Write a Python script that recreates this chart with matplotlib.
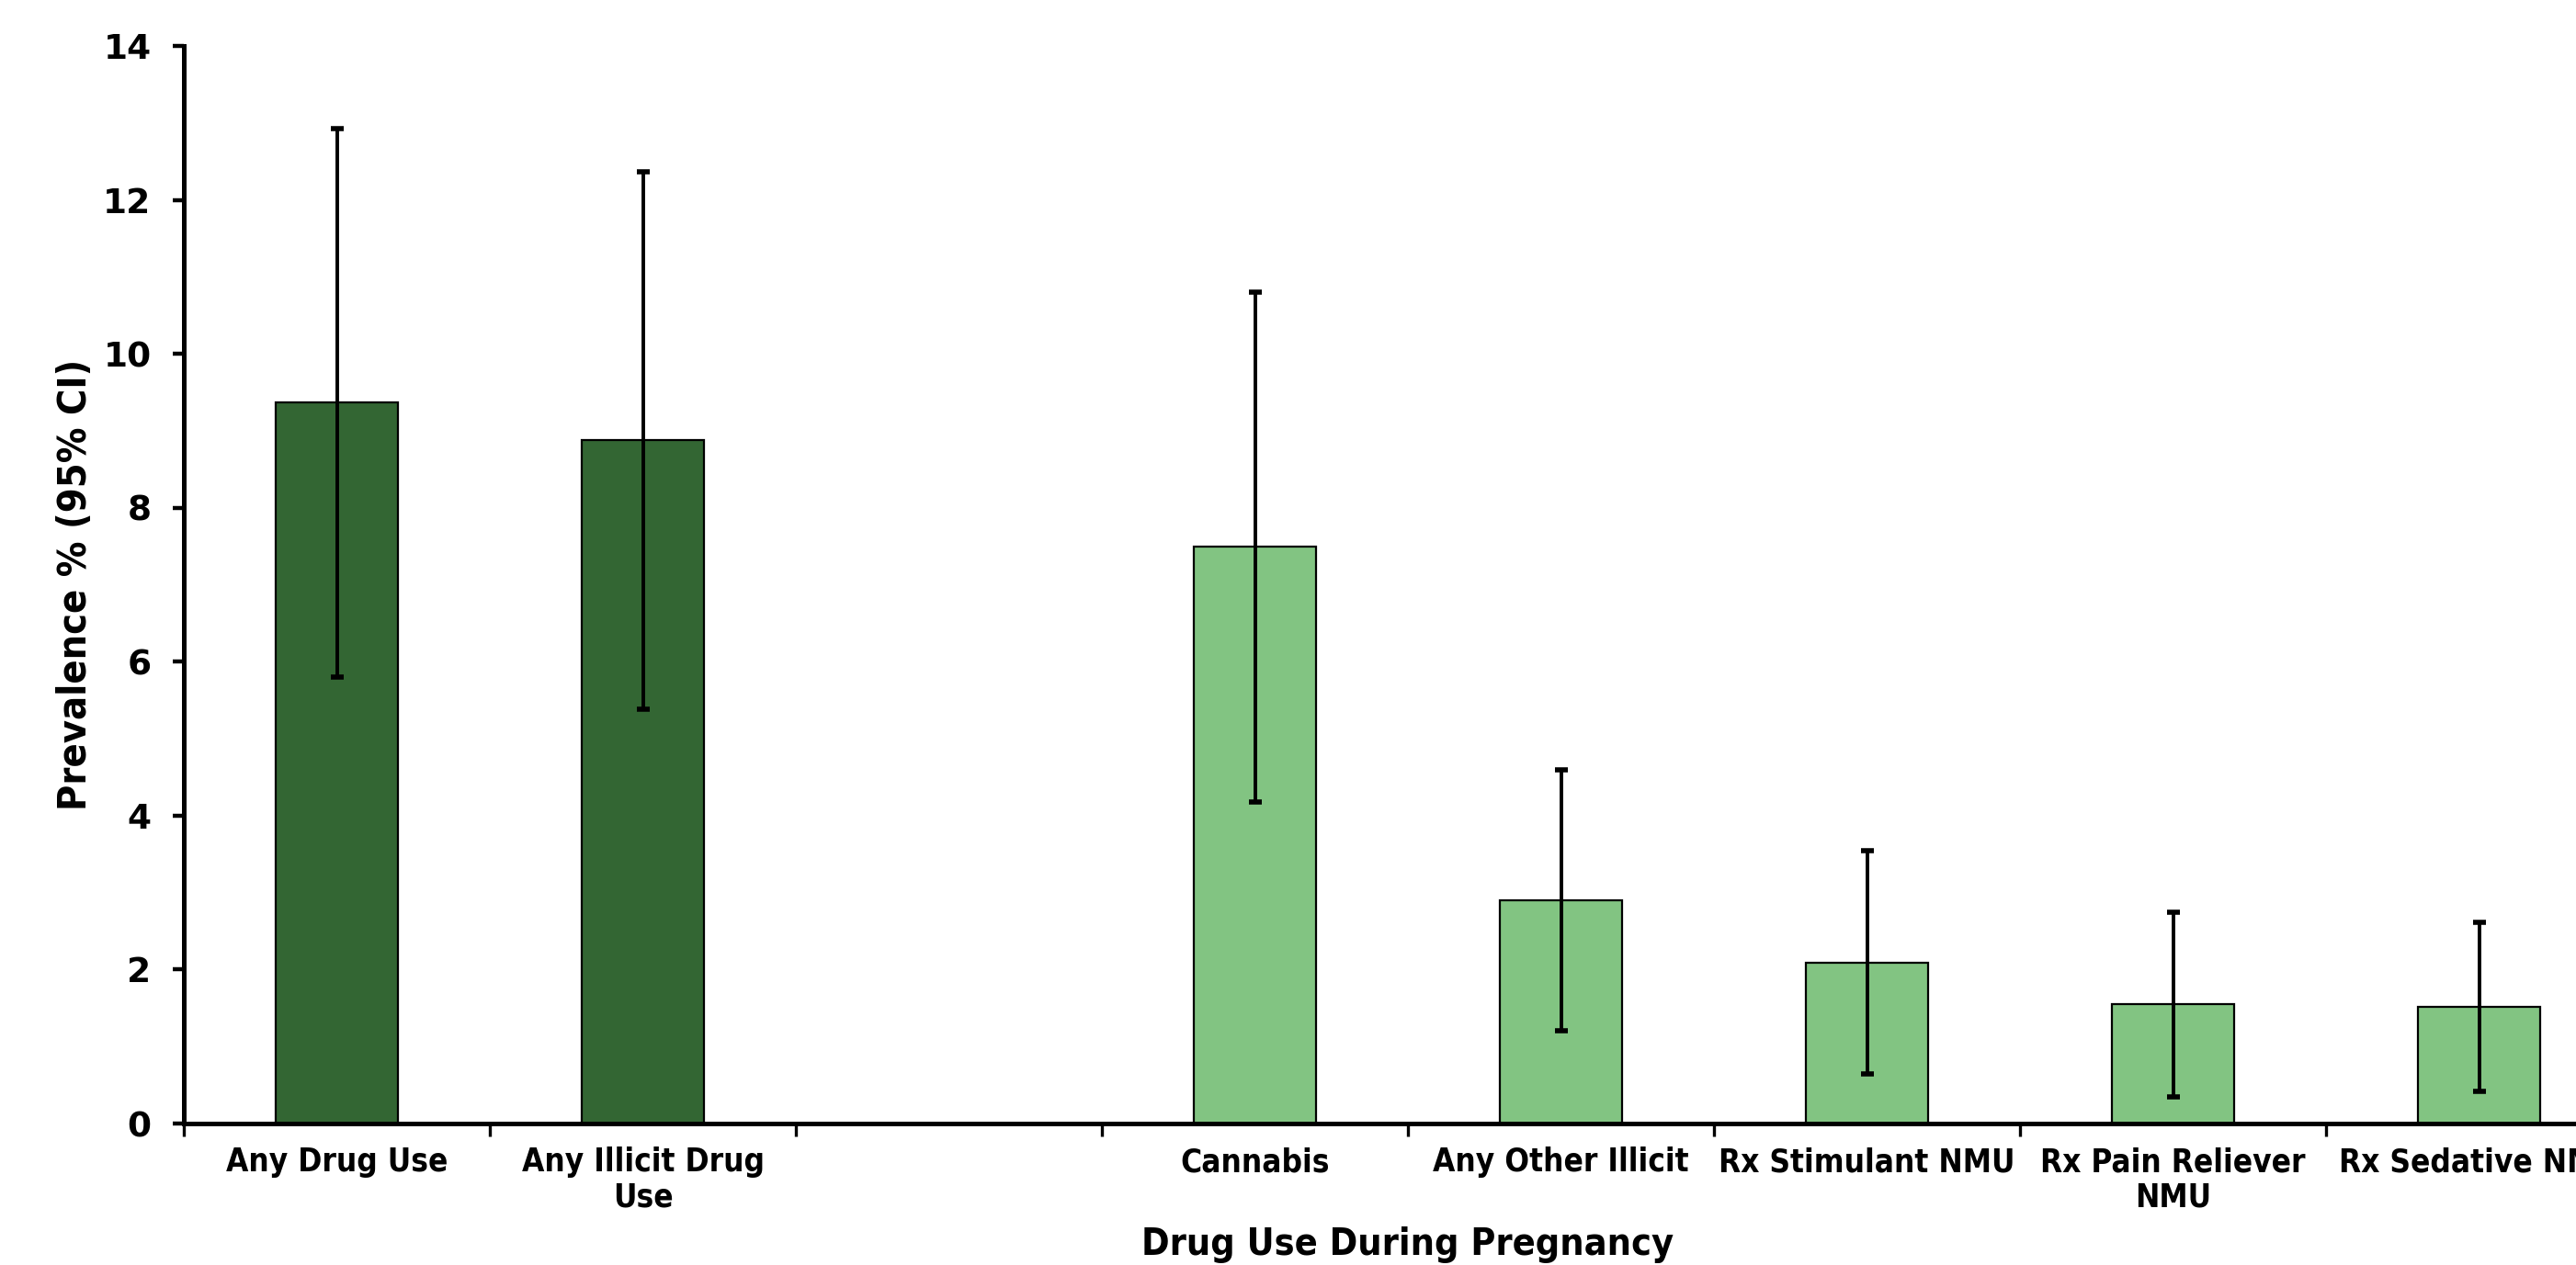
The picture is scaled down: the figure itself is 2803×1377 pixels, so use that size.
import matplotlib
matplotlib.use("Agg")
import matplotlib.pyplot as plt
import numpy as np

categories = ["Any Drug Use", "Any Illicit Drug\nUse", "", "Cannabis", "Any Other Illicit",
              "Rx Stimulant NMU", "Rx Pain Reliever\nNMU", "Rx Sedative NMU"]
prevalence = [9.37, 8.88, np.nan, 7.49, 2.90, 2.09, 1.55, 1.52]
ci_lower = [5.80, 5.38, np.nan, 4.18, 1.20, 0.65, 0.35, 0.42]
ci_upper = [12.93, 12.36, np.nan, 10.80, 4.60, 3.54, 2.75, 2.61]
group = ["overall", "overall", "none", "specific", "specific", "specific", "specific", "specific"]
colors_map = {"overall": "#336633", "specific": "#82C482", "none": "white"}

W, H = 2803, 1377
dpi = 200
fig = plt.figure(figsize=(W / dpi, H / dpi), dpi=dpi)

left_px, axis_px, top_px, cat_px = 200, 1223, 50, 333.0
n = len(categories)
ax = fig.add_axes([left_px / W, 1 - axis_px / H, n * cat_px / W, (axis_px - top_px) / H])

x = np.arange(n)
vals = np.array(prevalence, dtype=float)
lo = np.array(ci_lower, dtype=float)
hi = np.array(ci_upper, dtype=float)
mask = ~np.isnan(vals)
cols = [colors_map[g] for g in group]

ax.bar(x[mask], vals[mask], width=0.4, color=[c for c, m in zip(cols, mask) if m],
       edgecolor="black", linewidth=0.8, zorder=2)
ax.errorbar(x[mask], vals[mask], yerr=[vals[mask] - lo[mask], hi[mask] - vals[mask]],
            fmt="none", ecolor="black", elinewidth=1.4, capsize=2.5, capthick=2.0, zorder=3)

ax.set_xlim(-0.5, n - 0.5)
ax.set_ylim(0, 14)
ax.set_yticks(np.arange(0, 15, 2))

for s in ["top", "right"]:
    ax.spines[s].set_visible(False)
for s in ["left", "bottom"]:
    ax.spines[s].set_linewidth(1.8)

# category boundary ticks (major) and centred labels (minor)
ax.set_xticks(np.arange(-0.5, n, 1.0))
ax.set_xticklabels([])
ax.set_xticks(x, minor=True)
ax.set_xticklabels(categories, minor=True, fontsize=12.6, fontweight="bold",
                   fontstretch="condensed", linespacing=1.15)
ax.tick_params(axis="x", which="major", direction="out", length=5, width=1.2)
ax.tick_params(axis="x", which="minor", length=0, pad=9.0)
ax.tick_params(axis="y", direction="out", length=4.3, width=1.6, pad=8.5)
for lab in ax.get_yticklabels():
    lab.set_fontsize(13.5)
    lab.set_fontweight("bold")

ax.set_ylabel("Prevalence % (95% CI)", fontsize=15.5, fontweight="bold", fontstretch="condensed",
              va="center")
ax.yaxis.set_label_coords(-0.0443, 0.5)
ax.set_xlabel("Drug Use During Pregnancy", fontsize=14.8, fontweight="bold", fontstretch="condensed")
ax.xaxis.set_label_coords(0.5, -0.1125)
ax.xaxis.label.set_va("center")

fig.savefig("out.png", dpi=dpi)
